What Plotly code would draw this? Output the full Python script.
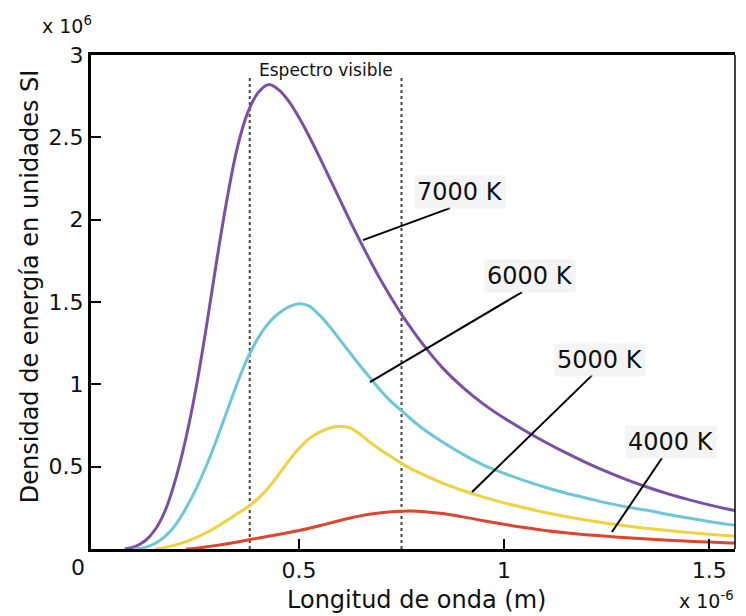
import plotly.graph_objects as go

# Wavelength in micrometres (x 10^-6 m); energy density in units of 10^6
x_7000 = [0.075, 0.10, 0.125, 0.15, 0.175, 0.20, 0.225, 0.25, 0.275, 0.30, 0.325, 0.35, 0.375, 0.40,
          0.425, 0.45, 0.475, 0.50, 0.525, 0.55, 0.575, 0.60, 0.625, 0.65, 0.675, 0.70, 0.725, 0.75,
          0.775, 0.80, 0.85, 0.90, 0.95, 1.00, 1.05, 1.10, 1.15, 1.20, 1.25, 1.30, 1.35, 1.40, 1.45,
          1.50, 1.55, 1.60]
y_7000 = [0.0, 0.015, 0.05, 0.12, 0.24, 0.43, 0.68, 0.99, 1.36, 1.76, 2.13, 2.44, 2.65, 2.77,
          2.82, 2.79, 2.72, 2.62, 2.505, 2.38, 2.25, 2.12, 1.99, 1.865, 1.745, 1.63, 1.525, 1.425,
          1.335, 1.25, 1.10, 0.98, 0.88, 0.795, 0.72, 0.65, 0.585, 0.525, 0.47, 0.42, 0.375, 0.335, 0.30,
          0.268, 0.24, 0.215]

x_6000 = [0.10, 0.125, 0.15, 0.175, 0.20, 0.225, 0.25, 0.275, 0.30, 0.325, 0.35, 0.375, 0.40, 0.425,
          0.45, 0.475, 0.50, 0.525, 0.55, 0.575, 0.60, 0.625, 0.65, 0.675, 0.70, 0.725, 0.75, 0.775,
          0.80, 0.85, 0.90, 0.95, 1.00, 1.05, 1.10, 1.15, 1.20, 1.25, 1.30, 1.35, 1.40, 1.45, 1.50,
          1.55, 1.60]
y_6000 = [0.0, 0.01, 0.035, 0.08, 0.15, 0.25, 0.37, 0.51, 0.67, 0.84, 1.01, 1.16, 1.28, 1.37,
          1.43, 1.47, 1.49, 1.475, 1.42, 1.35, 1.27, 1.19, 1.11, 1.035, 0.96, 0.895, 0.84, 0.785,
          0.735, 0.65, 0.575, 0.51, 0.46, 0.415, 0.375, 0.34, 0.31, 0.28, 0.255, 0.235, 0.21, 0.188, 0.167,
          0.148, 0.132]

x_5000 = [0.15, 0.175, 0.20, 0.225, 0.25, 0.275, 0.30, 0.325, 0.35, 0.375, 0.40, 0.425, 0.45, 0.475,
          0.50, 0.525, 0.55, 0.575, 0.60, 0.625, 0.65, 0.675, 0.70, 0.725, 0.75, 0.775, 0.80, 0.85,
          0.90, 0.95, 1.00, 1.05, 1.10, 1.15, 1.20, 1.25, 1.30, 1.35, 1.40, 1.45, 1.50, 1.55, 1.60]
y_5000 = [0.0, 0.01, 0.025, 0.045, 0.07, 0.10, 0.135, 0.175, 0.215, 0.255, 0.305, 0.37, 0.45, 0.535,
          0.61, 0.67, 0.71, 0.735, 0.745, 0.735, 0.695, 0.645, 0.60, 0.56, 0.52, 0.485, 0.455, 0.40,
          0.355, 0.315, 0.28, 0.25, 0.222, 0.198, 0.176, 0.157, 0.14, 0.125, 0.112, 0.10, 0.09, 0.08, 0.072]

x_4000 = [0.225, 0.25, 0.275, 0.30, 0.325, 0.35, 0.375, 0.40, 0.425, 0.45, 0.475, 0.50, 0.525, 0.55,
          0.575, 0.60, 0.625, 0.65, 0.675, 0.70, 0.725, 0.75, 0.775, 0.80, 0.85, 0.90, 0.95, 1.00,
          1.05, 1.10, 1.15, 1.20, 1.25, 1.30, 1.35, 1.40, 1.45, 1.50, 1.55, 1.60]
y_4000 = [0.0, 0.005, 0.013, 0.022, 0.032, 0.043, 0.055, 0.066, 0.077, 0.088, 0.10, 0.112, 0.126, 0.141,
          0.157, 0.173, 0.188, 0.201, 0.212, 0.22, 0.226, 0.23, 0.231, 0.228, 0.215, 0.195, 0.172, 0.150,
          0.130, 0.113, 0.099, 0.087, 0.077, 0.068, 0.06, 0.053, 0.047, 0.042, 0.037, 0.033]

series = [
    ("7000 K", x_7000, y_7000, "#7b4fa6"),
    ("6000 K", x_6000, y_6000, "#6cc7da"),
    ("5000 K", x_5000, y_5000, "#f1d23c"),
    ("4000 K", x_4000, y_4000, "#e0442c"),
]

# visible spectrum limits (micrometres)
visible = [0.38, 0.75]
visible_top = 2.87

# label positions: (text, line start x, y, line end x, y, text x, y)
labels = [
    ("7000 K", 0.656, 1.876, 0.868, 2.07, 0.893, 2.168),
    ("6000 K", 0.673, 1.014, 1.044, 1.56, 1.063, 1.657),
    ("5000 K", 0.922, 0.346, 1.215, 1.056, 1.234, 1.148),
    ("4000 K", 1.263, 0.103, 1.385, 0.553, 1.407, 0.650),
]

x_ticks = [0.5, 1, 1.5]
x_ticktext = ["0.5", "1", "1.5"]
y_ticks = [0.5, 1, 1.5, 2, 2.5, 3]
y_ticktext = ["0.5", "1", "1.5", "2", "2.5", "3"]

FONT = "DejaVu Sans, sans-serif"
TXT = "#111111"

fig = go.Figure()
for v in visible:
    fig.add_trace(go.Scatter(x=[v, v], y=[0, visible_top], mode="lines",
                             line=dict(color="#444444", width=2, dash="dot"),
                             showlegend=False, hoverinfo="skip"))
for name, xs, ys, col in series:
    fig.add_trace(go.Scatter(x=xs, y=ys, mode="lines", name=name,
                             line=dict(color=col, width=3, shape="spline", smoothing=1.0),
                             showlegend=False))

for text, x0, y0, x1, y1, tx, ty in labels:
    fig.add_shape(type="line", x0=x0, y0=y0, x1=x1, y1=y1, xref="x", yref="y",
                  line=dict(color="black", width=2))
    fig.add_annotation(x=tx, y=ty, text=text, showarrow=False, xref="x", yref="y",
                       xanchor="center", yanchor="middle",
                       font=dict(family=FONT, size=24, color=TXT),
                       bgcolor="rgba(236,236,236,0.6)", borderpad=2)

fig.add_annotation(x=(visible[0] + visible[1]) / 2, y=2.91, text="Espectro visible", showarrow=False,
                   xref="x", yref="y", xanchor="center", yanchor="middle",
                   font=dict(family=FONT, size=17, color=TXT))

fig.add_annotation(x=-0.038, y=1.06, xref="paper", yref="paper", text="x 10<sup>6</sup>",
                   xanchor="center", yanchor="middle",
                   showarrow=False, font=dict(family=FONT, size=19, color=TXT))
fig.add_annotation(x=0.9565, y=-0.103, xref="paper", yref="paper", text="x 10<sup>-6</sup>",
                   xanchor="center", yanchor="middle",
                   showarrow=False, font=dict(family=FONT, size=19, color=TXT))
fig.add_annotation(x=-0.02, y=-0.038, xref="paper", yref="paper", text="0",
                   xanchor="center", yanchor="middle",
                   showarrow=False, font=dict(family=FONT, size=22, color=TXT))
fig.add_annotation(x=0.505, y=-0.103, xref="paper", yref="paper", text="Longitud de onda (m)",
                   xanchor="center", yanchor="middle",
                   showarrow=False, font=dict(family=FONT, size=24, color=TXT))
fig.add_annotation(x=-0.0947, y=0.532, xref="paper", yref="paper",
                   text="Densidad de energía en unidades SI", textangle=-90,
                   xanchor="center", yanchor="middle",
                   showarrow=False, font=dict(family=FONT, size=24, color=TXT))

# thin right frame line
fig.add_shape(type="line", x0=1, x1=1, y0=0, y1=1, xref="paper", yref="paper",
              line=dict(color="black", width=1.5))

fig.update_xaxes(range=[-0.007, 1.563], tickvals=x_ticks, ticktext=x_ticktext,
                 ticks="inside", ticklen=10, tickwidth=2, tickcolor="black",
                 showline=True, linecolor="black", linewidth=3, mirror=True,
                 showgrid=False, zeroline=False,
                 tickfont=dict(family=FONT, size=22, color=TXT))
fig.update_yaxes(range=[0, 3], tickvals=y_ticks, ticktext=y_ticktext,
                 ticks="inside", ticklen=10, tickwidth=2, tickcolor="black",
                 showline=True, linecolor="black", linewidth=3, mirror=False,
                 showgrid=False, zeroline=False,
                 tickfont=dict(family=FONT, size=22, color=TXT))

fig.update_layout(width=746, height=616, margin=dict(l=91, r=11, t=55, b=67),
                  plot_bgcolor="white", paper_bgcolor="white")

fig.write_html("out.html")
